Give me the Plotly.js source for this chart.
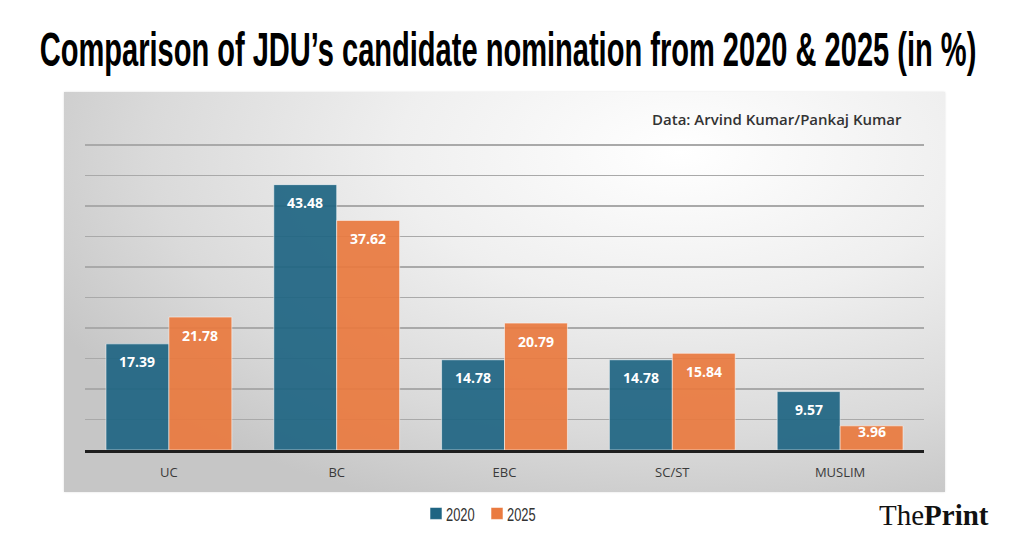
<!DOCTYPE html>
<html>
<head>
<meta charset="utf-8">
<script src="https://cdn.plot.ly/plotly-3.0.1.min.js"></script>
<style>
  html, body { margin: 0; padding: 0; background: #ffffff; }
  #wrap { position: relative; width: 1009px; height: 544px; overflow: hidden; background: #ffffff; }
  #panel { position: absolute; left: 64px; top: 92px; width: 881px; height: 400px;
    background: radial-gradient(ellipse 80% 95% at 70% 15%, #ffffff 0%, #efefef 40%, #dadada 75%, #c6c6c6 100%);
    box-shadow: 0 0 2px rgba(0,0,0,0.12); }
  #chart { position: absolute; left: 0; top: 0; width: 1009px; height: 544px; }
</style>
</head>
<body>
<div id="wrap">
  <div id="panel"></div>
  <div id="chart"></div>
</div>
<script>
// ---- data ----
const categories = ["UC", "BC", "EBC", "SC/ST", "MUSLIM"];
const values2020 = [17.39, 43.48, 14.78, 14.78, 9.57];
const values2025 = [21.78, 37.62, 20.79, 15.84, 3.96];
const seriesNames = ["2020", "2025"];
const titleText = "Comparison of JDU’s candidate nomination from 2020 &amp; 2025 (in %)";
const sourceText = "Data: Arvind Kumar/Pankaj Kumar";
const yTicks = [0, 5, 10, 15, 20, 25, 30, 35, 40, 45, 50];

// ---- layout constants ----
const W = 1009, H = 544;
const margin = {l: 85, r: 85, t: 143, b: 92};
const plotH = H - margin.t - margin.b;
const plotW = W - margin.l - margin.r;
const yMax = 50.3;
const pxPerUnit = plotH / yMax;
const bargap = 0.25;
const barPx = plotW / categories.length * (1 - bargap) / 2;

const blue = "#1f6583";
const orange = "#ea7a3f";

const traces = [
  {type: "bar", name: seriesNames[0], x: categories, y: values2020,
   marker: {color: blue, opacity: 0.92, line: {color: "rgba(255,255,255,0.55)", width: 1}},
   hoverinfo: "skip"},
  {type: "bar", name: seriesNames[1], x: categories, y: values2025,
   marker: {color: orange, opacity: 0.92, line: {color: "rgba(255,255,255,0.55)", width: 1}},
   hoverinfo: "skip"}
];

const annotations = [];
[values2020, values2025].forEach((vals, si) => {
  vals.forEach((v, i) => {
    const hpx = v * pxPerUnit;
    annotations.push({
      x: categories[i], y: v, xref: "x", yref: "y",
      xshift: (si === 0 ? -1 : 1) * barPx / 2,
      yshift: hpx < 36 ? -6 : -18,
      yanchor: "middle", xanchor: "center",
      text: v.toFixed(2), showarrow: false,
      font: {family: "Open Sans, Liberation Sans, sans-serif", size: 14, color: "#ffffff", weight: 700}
    });
  });
});

annotations.push({
  xref: "paper", yref: "paper",
  x: (904 - margin.l) / plotW, y: (H - margin.b - 119) / plotH,
  xanchor: "right", yanchor: "middle", showarrow: false,
  text: sourceText,
  font: {family: "Open Sans, sans-serif", size: 15, color: "#333333", weight: 600}
});
annotations.push({
  xref: "paper", yref: "paper",
  x: (991 - margin.l) / plotW, y: (H - margin.b - 517) / plotH,
  xanchor: "right", yanchor: "middle", showarrow: false,
  text: "The<b>Print</b>",
  font: {family: "Liberation Serif, DejaVu Serif, serif", size: 29, color: "#111111"}
});

const layout = {
  width: W, height: H,
  margin: margin,
  paper_bgcolor: "rgba(0,0,0,0)",
  plot_bgcolor: "rgba(0,0,0,0)",
  barmode: "group",
  bargap: bargap,
  bargroupgap: 0,
  showlegend: true,
  title: {
    text: titleText,
    x: 0.5, xanchor: "center",
    y: 1 - 49 / H, yanchor: "middle", yref: "container",
    font: {family: "Liberation Sans Narrow, Arial Narrow, sans-serif", size: 49, color: "#000000", weight: 700}
  },
  xaxis: {
    type: "category",
    showline: true, linecolor: "#1e1e1e", linewidth: 3,
    showgrid: false, zeroline: false, ticks: "",
    ticklabelstandoff: 8,
    tickfont: {family: "Open Sans, sans-serif", size: 13, color: "#3a3a3a"},
    fixedrange: true
  },
  yaxis: {
    range: [0, yMax],
    tickvals: yTicks,
    showticklabels: false,
    showgrid: true, gridcolor: "#a9a9a9", gridwidth: 1.5,
    zeroline: false, showline: false, ticks: "",
    fixedrange: true
  },
  legend: {
    orientation: "h",
    x: (483 - margin.l) / plotW, xanchor: "center",
    y: (H - margin.b - 516) / plotH, yanchor: "middle",
    font: {family: "Liberation Sans Narrow, Arial Narrow, sans-serif", size: 19, color: "#333333"},
    bgcolor: "rgba(0,0,0,0)",
    itemwidth: 30,
    traceorder: "normal"
  },
  annotations: annotations
};

Plotly.newPlot("chart", traces, layout, {staticPlot: true, displayModeBar: false}).then(() => {
  // condense the title to the reference's narrow headline width
  const t = document.querySelector(".gtitle");
  if (t) {
    const bb = t.getBBox();
    const sx = 937 / bb.width;
    const cx = bb.x + bb.width / 2;
    t.setAttribute("transform", `translate(508,0) scale(${sx},1) translate(${-cx},0)`);
  }
  // condensed legend entries
  const targets = [430, 491];
  document.querySelectorAll(".legend .traces").forEach((g, i) => {
    const sq = g.querySelector(".legendpoints path");
    const tr = /translate\(([-\d.e]+)[ ,]+([-\d.e]+)\)/.exec(g.getAttribute("transform") || "");
    if (!sq || !tr) return;
    const r = sq.getBoundingClientRect();
    const nx = parseFloat(tr[1]) + (targets[i] - r.left);
    g.setAttribute("transform", `translate(${nx},${tr[2]})`);
    const txt = g.querySelector(".legendtext");
    if (txt) {
      const tx = parseFloat(txt.getAttribute("x")) || 40;
      txt.setAttribute("transform", `translate(${tx - 10},0) scale(0.68,1) translate(${-tx},0)`);
    }
  });
});
</script>
</body>
</html>
